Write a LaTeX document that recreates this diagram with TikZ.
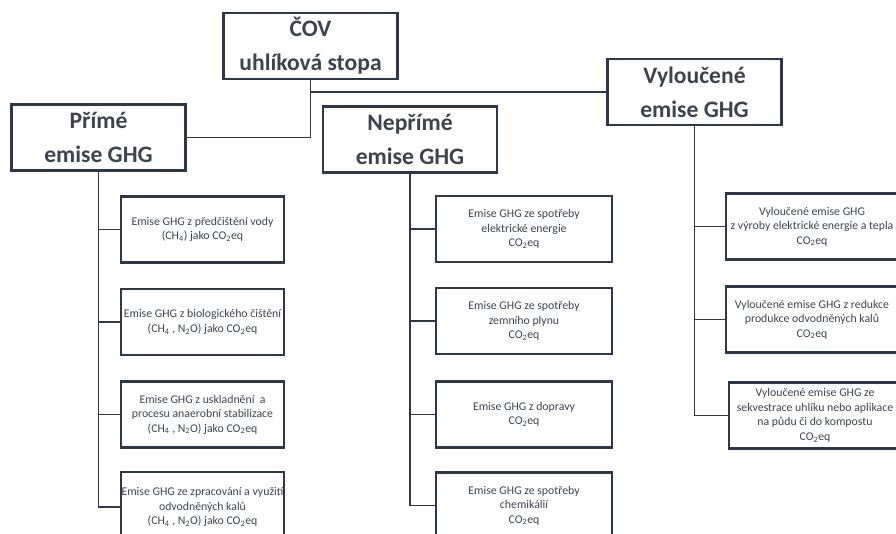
\documentclass[tikz,border=0pt]{standalone}
\usepackage{fontspec}
\setmainfont{Carlito}
\definecolor{boxline}{RGB}{46,56,74}
\definecolor{boxtext}{RGB}{62,68,78}
\newcommand{\cotwo}{CO\textsubscript{2}eq}
\begin{document}
\begin{tikzpicture}[x=1pt,y=-1pt,
    head/.style={draw=boxline,line width=2.3pt,minimum width=174pt,minimum height=66pt,inner sep=1pt,align=center,text=boxtext,font=\fontsize{23.6}{34}\selectfont\bfseries},
    sbox/.style={draw=boxline,line width=2.3pt,minimum height=66pt,inner xsep=0pt,align=center,text=boxtext,font=\fontsize{11.8}{14.5}\selectfont},
    link/.style={draw=boxline,line width=1.4pt}]
  \useasboundingbox[fill=white] (0,0) rectangle (896,533);
  \clip (0,0) rectangle (896,533);
  % main boxes
  \node[head] (cov) at (310.5,46) {ČOV\\uhlíková stopa};
  \node[head] (prime) at (98.5,137.5) {Přímé\\emise GHG};
  \node[head] (neprime) at (410,139.5) {Nepřímé\\emise GHG};
  \node[head] (vyl) at (694.5,92) {Vyloučené\\emise GHG};
  \draw[link] (cov.south) |- (prime.east);
  \draw[link] (cov.south |- vyl.west) -- (vyl.west);
  % direct emissions
  \node[sbox,minimum width=163pt] (p1) at (202.5,229.5) {Emise GHG z předčištění vody\\(CH\textsubscript{4}) jako \cotwo};
  \node[sbox,minimum width=163pt] (p2) at (202.5,322) {Emise GHG z biologického čištění\\(CH\textsubscript{4} , N\textsubscript{2}O) jako \cotwo};
  \node[sbox,minimum width=163pt] (p3) at (202.5,414.5) {Emise GHG z uskladnění~ a\\procesu anaerobní stabilizace\\(CH\textsubscript{4} , N\textsubscript{2}O) jako \cotwo};
  \node[sbox,minimum width=163pt,minimum height=70pt] (p4) at (202.5,507) {\makebox[160pt]{Emise GHG ze zpracování a využití}\\odvodněných kalů\\(CH\textsubscript{4} , N\textsubscript{2}O) jako \cotwo};
  \draw[link] (prime.south) |- (p4.west);
  \foreach \b in {p1,p2,p3}
    \draw[link] (prime.south |- \b.west) -- (\b.west);
  % indirect emissions
  \node[sbox,minimum width=176pt] (n1) at (524,229) {Emise GHG ze spotřeby\\elektrické energie\\\cotwo};
  \node[sbox,minimum width=176pt] (n2) at (524,321) {Emise GHG ze spotřeby\\zemního plynu\\\cotwo};
  \node[sbox,minimum width=176pt] (n3) at (524,414.5) {Emise GHG z dopravy\\\cotwo};
  \node[sbox,minimum width=176pt] (n4) at (524,505.5) {Emise GHG ze spotřeby\\chemikálií\\\cotwo};
  \draw[link] (neprime.south) |- (n4.west);
  \foreach \b in {n1,n2,n3}
    \draw[link] (neprime.south |- \b.west) -- (\b.west);
  % avoided emissions
  \node[sbox,minimum width=172pt] (v1) at (812,226.5) {Vyloučené emise GHG\\\makebox[168pt]{z výroby elektrické energie a tepla}\\\cotwo};
  \node[sbox,minimum width=172pt] (v2) at (812,319.5) {Vyloučené emise GHG z redukce\\produkce odvodněných kalů\\\cotwo};
  \node[sbox,minimum width=172pt] (v3) at (815,415.5) {Vyloučené emise GHG ze\\\makebox[166pt]{sekvestrace uhlíku nebo aplikace}\\na půdu či do kompostu\\\cotwo};
  \draw[link] (vyl.south) |- (v3.west);
  \foreach \b in {v1,v2}
    \draw[link] (vyl.south |- \b.west) -- (\b.west);
\end{tikzpicture}
\end{document}
